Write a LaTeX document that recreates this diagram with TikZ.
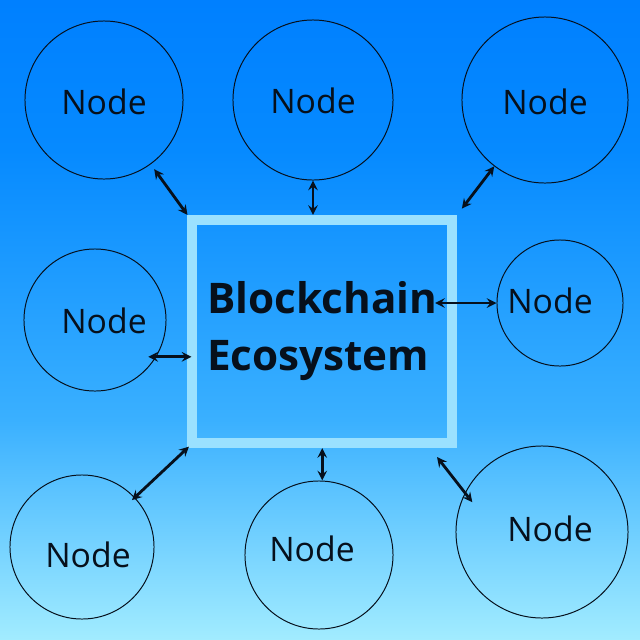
\documentclass[tikz,border=0pt]{standalone}
\usepackage{fontspec}
\setmainfont{Open Sans}
\usepackage{xcolor}
\definecolor{skytop}{RGB}{0,128,255}
\definecolor{skymid}{RGB}{6,138,255}
\definecolor{skylow}{RGB}{58,176,255}
\definecolor{skybot}{RGB}{162,236,255}
\definecolor{rim}{RGB}{155,225,255}
\definecolor{ink}{RGB}{6,16,28}
\tikzstyle{peer} = [circle, inner sep=0pt, draw=ink, line width=0.7pt]
\tikzstyle{peertext} = [text=ink, font=\fontsize{24}{28}\selectfont]
\tikzstyle{hub} = [rectangle, draw=rim, line width=0.25cm, minimum width=6.4875cm, minimum height=5.575cm, align=left, text=ink, font=\bfseries\fontsize{30}{40.5}\selectfont]
\tikzstyle{link} = [line width=2pt, <->, >=stealth, draw=ink]

\begin{document}
\begin{tikzpicture}[x=0.025cm, y=-0.025cm]
\useasboundingbox (0,0) rectangle (640,640);
% sky
\shade [top color=skytop, bottom color=skymid] (0,0) rectangle (640,150);
\shade [top color=skymid, bottom color=skylow] (0,150) rectangle (640,420);
\shade [top color=skylow, bottom color=skybot] (0,420) rectangle (640,640);

\node (hub) [hub] at (322.25,331.5) {Blockchain\\Ecosystem};

\node (n1) [peer, minimum size=3.95cm, label={[peertext, shift={(0,2)}]center:Node}] at (104,100) {};
\node (n2) [peer, minimum size=4.0cm, label={[peertext, shift={(0,1)}]center:Node}] at (313,100) {};
\node (n3) [peer, minimum size=4.15cm, label={[peertext, shift={(0,2)}]center:Node}] at (545,100) {};
\node (n4) [peer, minimum size=3.55cm, label={[peertext, shift={(9,1)}]center:Node}] at (95,320) {};
\node (n5) [peer, minimum size=3.15cm, label={[peertext, shift={(-10,-2)}]center:Node}] at (560,303) {};
\node (n6) [peer, minimum size=3.6cm, label={[peertext, shift={(6,8)}]center:Node}] at (82,547) {};
\node (n7) [peer, minimum size=3.7cm, label={[peertext, shift={(-7,-6)}]center:Node}] at (319,555) {};
\node (n8) [peer, minimum size=4.3cm, label={[peertext, shift={(8,-3)}]center:Node}] at (542,532) {};

\draw [link, shorten <=0.15cm] (n1) -- (hub.north west);
\draw [link] (n2.south) -- (n2.south |- hub.north);
\draw [link, shorten >=0.2cm] (n3) -- (hub.north east);
\draw [link, shorten <=-0.2cm, shorten >=-0.1cm] (n4.-31) -- (n4.-31 -| hub.west);
\draw [link, shorten >=-0.55cm] (n5.west) -- (n5.west -| hub.east);
\draw [link, shorten <=-0.1cm, shorten >=-0.05cm] (n6) -- (hub.south west);
\draw [link] (hub.south) -- (hub.south |- n7.north);
\draw [link, shorten >=-0.3cm] ([xshift=-0.5cm, yshift=-0.225cm]hub.south east) -- (n8.153);
\end{tikzpicture}
\end{document}
